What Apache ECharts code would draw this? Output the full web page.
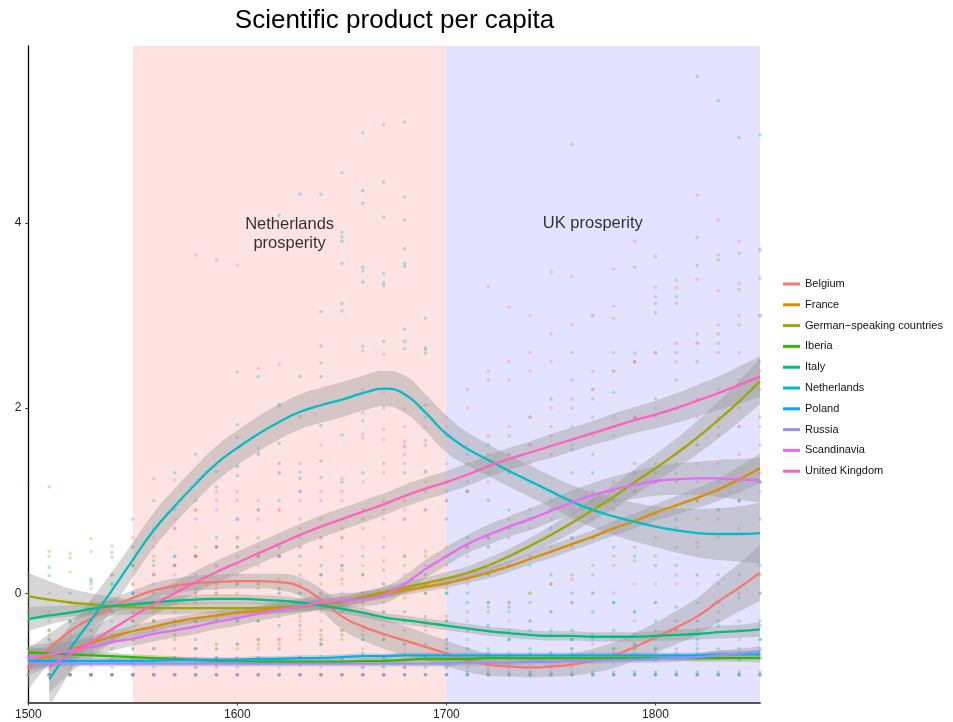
<!DOCTYPE html>
<html>
<head>
<meta charset="utf-8">
<script src="https://cdn.jsdelivr.net/npm/echarts@6/dist/echarts.min.js"></script>
<style>html,body{margin:0;padding:0;background:#fff;}#chart{width:953px;height:722px;}</style>
</head>
<body>
<div id="chart"></div>
<script>
const years = [1500,1510,1520,1530,1540,1550,1560,1570,1580,1590,1600,1610,1620,1630,1640,1650,1660,1670,1680,1690,1700,1710,1720,1730,1740,1750,1760,1770,1780,1790,1800,1810,1820,1830,1840,1850];
const xTickYears = [1500,1600,1700,1800];
const yTicks = [0,2,4];
const countries = ['Belgium','France','German\u2212speaking countries','Iberia','Italy','Netherlands','Poland','Russia','Scandinavia','United Kingdom'];
const periods = [{from:1550,to:1700},{from:1700,to:1850}];
const annotations = [
  {text:'Netherlands\nprosperity', year:1625, value:3.885},
  {text:'UK prosperity', year:1770, value:3.99}
];

// smoothed fits (value per decade)
const belgiumFit = [-0.82,-0.6,-0.41,-0.27,-0.15,-0.05,0.03,0.08,0.11,0.12,0.13,0.13,0.12,0.07,-0.07,-0.25,-0.36,-0.44,-0.51,-0.58,-0.65,-0.72,-0.77,-0.79,-0.80,-0.79,-0.77,-0.73,-0.67,-0.58,-0.48,-0.37,-0.25,-0.09,0.06,0.22];
const franceFit = [-0.75,-0.68,-0.61,-0.54,-0.47,-0.41,-0.36,-0.31,-0.27,-0.24,-0.21,-0.19,-0.17,-0.15,-0.12,-0.09,-0.05,-0.01,0.03,0.07,0.11,0.16,0.22,0.29,0.37,0.45,0.53,0.61,0.7,0.78,0.87,0.95,1.03,1.12,1.23,1.35];
const germanFit = [-0.03,-0.07,-0.10,-0.12,-0.14,-0.15,-0.16,-0.16,-0.16,-0.16,-0.16,-0.16,-0.15,-0.14,-0.12,-0.09,-0.04,0.01,0.06,0.11,0.16,0.22,0.3,0.4,0.51,0.63,0.76,0.9,1.04,1.2,1.35,1.51,1.68,1.87,2.07,2.29];
const iberiaFit = [-0.64,-0.65,-0.66,-0.67,-0.68,-0.69,-0.70,-0.71,-0.72,-0.73,-0.73,-0.74,-0.74,-0.74,-0.74,-0.74,-0.73,-0.73,-0.72,-0.71,-0.71,-0.71,-0.70,-0.70,-0.70,-0.70,-0.70,-0.70,-0.70,-0.70,-0.70,-0.70,-0.70,-0.70,-0.70,-0.70];
const italyFit = [-0.28,-0.24,-0.21,-0.17,-0.14,-0.12,-0.10,-0.08,-0.07,-0.06,-0.06,-0.07,-0.08,-0.10,-0.13,-0.17,-0.21,-0.26,-0.29,-0.32,-0.35,-0.38,-0.41,-0.43,-0.45,-0.46,-0.46,-0.47,-0.47,-0.47,-0.46,-0.45,-0.44,-0.42,-0.41,-0.39];
const netherlandsFit = [null,-0.93,-0.60,-0.29,0.03,0.36,0.68,0.94,1.18,1.40,1.57,1.72,1.85,1.96,2.03,2.09,2.16,2.21,2.15,1.95,1.72,1.56,1.44,1.32,1.21,1.10,0.99,0.90,0.83,0.77,0.72,0.68,0.65,0.64,0.64,0.65];
const polandFit = [-0.73,-0.73,-0.73,-0.73,-0.73,-0.73,-0.73,-0.72,-0.72,-0.72,-0.72,-0.71,-0.71,-0.70,-0.70,-0.69,-0.68,-0.68,-0.67,-0.67,-0.67,-0.67,-0.67,-0.67,-0.67,-0.67,-0.67,-0.67,-0.67,-0.67,-0.67,-0.67,-0.67,-0.66,-0.66,-0.66];
const russiaFit = [-0.76,-0.76,-0.76,-0.76,-0.76,-0.76,-0.76,-0.76,-0.76,-0.76,-0.76,-0.76,-0.76,-0.76,-0.76,-0.76,-0.76,-0.76,-0.76,-0.76,-0.76,-0.75,-0.75,-0.75,-0.74,-0.74,-0.73,-0.73,-0.72,-0.72,-0.71,-0.70,-0.69,-0.67,-0.65,-0.63];
const scandinaviaFit = [-0.70,-0.66,-0.62,-0.58,-0.53,-0.49,-0.44,-0.40,-0.36,-0.31,-0.27,-0.22,-0.18,-0.14,-0.10,-0.08,-0.06,-0.02,0.10,0.26,0.40,0.53,0.63,0.72,0.80,0.89,0.98,1.06,1.12,1.17,1.21,1.23,1.24,1.24,1.23,1.22];
const ukFit = [null,-0.80,-0.66,-0.53,-0.39,-0.25,-0.12,0.0,0.12,0.23,0.33,0.43,0.53,0.63,0.72,0.80,0.88,0.96,1.05,1.13,1.20,1.28,1.37,1.45,1.52,1.59,1.66,1.73,1.80,1.87,1.93,2.00,2.08,2.16,2.25,2.34];

// half-widths of the confidence bands
const belgiumSE = [0.22,0.16,0.12,0.1,0.09,0.08,0.08,0.08,0.08,0.08,0.08,0.08,0.09,0.1,0.12,0.14,0.15,0.16,0.16,0.15,0.14,0.13,0.12,0.11,0.11,0.11,0.12,0.13,0.14,0.15,0.16,0.18,0.2,0.23,0.26,0.3];
const franceSE = [0.14,0.11,0.09,0.08,0.07,0.06,0.06,0.05,0.05,0.05,0.05,0.05,0.05,0.05,0.05,0.05,0.05,0.05,0.05,0.05,0.05,0.05,0.06,0.06,0.06,0.07,0.07,0.07,0.08,0.08,0.09,0.1,0.11,0.12,0.14,0.16];
const germanSE = [0.25,0.2,0.15,0.12,0.1,0.08,0.07,0.07,0.06,0.06,0.06,0.06,0.06,0.06,0.06,0.06,0.06,0.06,0.06,0.06,0.07,0.07,0.08,0.08,0.09,0.1,0.11,0.12,0.13,0.14,0.15,0.16,0.18,0.2,0.22,0.25];
const iberiaSE = [0.06,0.05,0.04,0.04,0.04,0.03,0.03,0.03,0.03,0.03,0.03,0.03,0.03,0.03,0.03,0.03,0.03,0.03,0.03,0.03,0.03,0.03,0.03,0.03,0.03,0.03,0.03,0.03,0.03,0.03,0.03,0.03,0.04,0.04,0.04,0.05];
const italySE = [0.13,0.1,0.08,0.07,0.06,0.05,0.05,0.05,0.05,0.05,0.05,0.05,0.05,0.05,0.05,0.05,0.05,0.05,0.05,0.05,0.05,0.05,0.05,0.05,0.05,0.05,0.05,0.05,0.05,0.05,0.05,0.06,0.06,0.07,0.07,0.08];
const netherlandsSE = [null,0.3,0.25,0.22,0.2,0.19,0.19,0.19,0.19,0.19,0.19,0.19,0.19,0.19,0.19,0.19,0.19,0.19,0.2,0.2,0.2,0.18,0.17,0.17,0.17,0.17,0.18,0.19,0.2,0.21,0.22,0.24,0.26,0.28,0.3,0.33];
const polandSE = [0.05,0.04,0.04,0.03,0.03,0.03,0.03,0.03,0.03,0.03,0.03,0.03,0.03,0.03,0.03,0.03,0.03,0.03,0.03,0.03,0.03,0.03,0.03,0.03,0.03,0.03,0.03,0.03,0.03,0.03,0.03,0.03,0.03,0.04,0.04,0.05];
const russiaSE = [0.05,0.04,0.03,0.03,0.03,0.03,0.03,0.03,0.03,0.03,0.03,0.03,0.03,0.03,0.03,0.03,0.03,0.03,0.03,0.03,0.03,0.03,0.03,0.03,0.03,0.03,0.03,0.03,0.03,0.03,0.04,0.04,0.04,0.05,0.05,0.06];
const scandinaviaSE = [0.14,0.12,0.1,0.09,0.09,0.08,0.08,0.08,0.08,0.08,0.08,0.08,0.08,0.08,0.08,0.08,0.08,0.09,0.09,0.1,0.1,0.1,0.11,0.11,0.12,0.12,0.13,0.13,0.14,0.15,0.16,0.17,0.18,0.2,0.22,0.24];
const ukSE = [null,0.28,0.2,0.16,0.14,0.13,0.12,0.12,0.12,0.12,0.12,0.12,0.12,0.12,0.12,0.12,0.12,0.12,0.12,0.12,0.12,0.12,0.12,0.12,0.12,0.13,0.13,0.13,0.14,0.14,0.15,0.16,0.17,0.18,0.2,0.22];

// observations (values per decade)
const belgiumPts = [[-0.88,-0.6],[-0.88,-0.5,-0.3],[-0.88,-0.45,-0.1],[-0.88,-0.4,0.05],[-0.88,-0.3,0.2],[-0.88,-0.2,0.3,0.6],[-0.88,-0.3,0.2,0.5,1.24],[-0.88,-0.2,0.3,0.7,1.22],[-0.88,-0.1,0.4,0.9,3.65],[-0.88,0.0,0.5,1.1,3.6],[-0.88,0.1,0.6,1.0,3.54],[-0.88,-0.2,0.5,0.9,2.43],[-0.88,0.0,0.4,1.3,2.47],[-0.88,-0.3,0.3,0.8],[-0.88,-0.5,0.2,0.6],[-0.88,-0.4,0.1],[-0.88,-0.6,0.0],[-0.88,-0.7,-0.2],[-0.88,-0.6,-0.3],[-0.88,-0.7,-0.4],[-0.88,-0.75,-0.5],[-0.88,-0.8,-0.6],[-0.88,-0.82,-0.65],[-0.88,-0.8,-0.7],[-0.88,-0.85,-0.7],[-0.88,-0.8,-0.65],[-0.88,-0.8,-0.6],[-0.88,-0.75,-0.55],[-0.88,-0.7,-0.5],[-0.88,-0.6,-0.3],[-0.88,-0.5,-0.1],[-0.88,-0.4,0.2],[-0.88,-0.3,0.5],[-0.88,-0.2,0.8,3.27],[-0.88,0.0,1.0],[-0.88,0.2,1.2]];
const francePts = [[-0.7],[-0.88,-0.6,-0.45],[-0.88,-0.55,-0.3],[-0.88,-0.5,-0.2],[-0.88,-0.45,-0.1],[-0.88,-0.5,-0.2,0.1],[-0.7,-0.4,-0.1,0.2],[-0.7,-0.35,0.0,0.3],[-0.6,-0.3,0.0,0.4],[-0.6,-0.25,0.05,0.5],[-0.55,-0.2,0.1,0.4],[-0.5,-0.2,0.1,0.6],[-0.5,-0.15,0.15,0.5],[-0.45,-0.1,0.2,0.7],[-0.45,-0.1,0.2,0.8],[-0.4,-0.05,0.25,0.6],[-0.4,0.0,0.3,0.9],[-0.35,0.0,0.35,1.0],[-0.3,0.05,0.4,0.8],[-0.3,0.1,0.45,1.2],[-0.25,0.1,0.5,1.0],[-0.2,0.15,0.5,1.1],[-0.15,0.2,0.6,1.3],[-0.1,0.3,0.7,1.5],[0.0,0.4,0.8,1.6],[0.1,0.45,0.9,1.8],[0.15,0.5,1.0,2.0],[0.2,0.6,1.1,2.2],[0.3,0.7,1.2,2.4],[0.35,0.8,1.3,2.5],[0.4,0.85,1.4,3.03],[0.5,0.95,1.5,2.6],[0.55,1.0,1.6,2.7],[0.6,1.1,1.7,2.8],[0.7,1.2,1.8],[0.8,1.3,1.9]];
const germanPts = [[-0.3,0.0],[-0.4,0.0,0.4,0.45],[-0.5,-0.1,0.23,0.38,0.43],[-0.4,-0.1,0.13,0.45,0.59],[-0.5,-0.2,0.1,0.39],[-0.6,-0.3,0.0,0.3],[-0.6,-0.3,0.0,0.4],[-0.6,-0.3,0.0,0.3],[-0.6,-0.3,-0.05,0.4],[-0.6,-0.3,0.0,0.3],[-0.6,-0.3,0.0,0.5],[-0.55,-0.3,0.05,0.4],[-0.55,-0.25,0.05,0.5],[-0.5,-0.25,0.1,0.6],[-0.5,-0.2,0.1,0.5],[-0.5,-0.2,0.15,0.7],[-0.45,-0.15,0.2,0.8],[-0.45,-0.1,0.25,0.9],[-0.4,-0.05,0.3,1.0],[-0.35,0.0,0.4,1.1],[-0.3,0.05,0.4,1.2],[-0.3,0.1,0.5,1.4],[-0.2,0.2,0.6,1.5],[-0.1,0.3,0.8,1.7],[0.0,0.4,0.9,1.9],[0.1,0.5,1.1,2.1],[0.2,0.6,1.3,2.3],[0.3,0.8,1.5,2.1],[0.4,0.9,1.7,2.97],[0.5,1.1,1.9,2.59,3.52],[0.6,1.3,2.1,3.13,3.64],[0.7,1.4,2.3,3.2,3.38],[0.8,1.6,2.5,3.54,3.84],[0.9,1.8,2.7,3.6],[1.0,2.0,2.9,3.28,3.67],[1.2,2.2,3.0,3.4,3.7]];
const iberiaPts = [[-0.88,-0.6],[-0.88,-0.7,-0.4],[-0.88,-0.7],[-0.88,-0.65],[-0.88,-0.7],[-0.88,-0.72,-0.5],[-0.88,-0.75],[-0.88,-0.7,-0.45],[-0.88,-0.75],[-0.88,-0.7,-0.55],[-0.88,-0.75],[-0.88,-0.72,-0.5],[-0.88,-0.75],[-0.88,-0.7],[-0.88,-0.75,-0.55],[-0.88,-0.72],[-0.88,-0.75],[-0.88,-0.7,-0.5],[-0.88,-0.72],[-0.88,-0.7],[-0.88,-0.72,-0.55],[-0.88,-0.7],[-0.88,-0.72],[-0.88,-0.7,-0.5],[-0.88,-0.72],[-0.88,-0.7],[-0.88,-0.68,-0.5],[-0.88,-0.7],[-0.88,-0.72],[-0.88,-0.7,-0.55],[-0.88,-0.72],[-0.88,-0.7],[-0.88,-0.68,-0.45],[-0.88,-0.7],[-0.88,-0.72],[-0.88,-0.7,-0.5]];
const italyPts = [[-0.5,-0.2,0.2,1.17],[-0.6,-0.2,0.19,0.28],[-0.6,-0.3,0.0],[-0.7,-0.2,0.15],[-0.6,-0.2,0.1],[-0.7,-0.3,0.0,0.3],[-0.7,-0.3,0.0,0.35],[-0.7,-0.3,0.05,0.4],[-0.7,-0.3,0.05,0.4],[-0.7,-0.3,0.1,0.5],[-0.7,-0.3,0.1,0.5],[-0.7,-0.3,0.1,0.4],[-0.7,-0.35,0.05,0.4],[-0.7,-0.35,0.0,0.4],[-0.75,-0.4,0.0,0.3],[-0.75,-0.45,-0.1,0.3],[-0.8,-0.5,-0.1,0.2],[-0.8,-0.5,-0.2,0.1],[-0.8,-0.55,-0.2,0.1],[-0.8,-0.55,-0.25,0.0],[-0.8,-0.6,-0.3,0.0],[-0.85,-0.6,-0.4,-0.1],[-0.85,-0.6,-0.35,-0.1],[-0.85,-0.65,-0.4,-0.15],[-0.85,-0.6,-0.4,-0.1],[-0.85,-0.65,-0.45,-0.2],[-0.85,-0.6,-0.4,-0.1],[-0.85,-0.65,-0.45,-0.2],[-0.85,-0.6,-0.4,-0.1],[-0.85,-0.65,-0.45,-0.2],[-0.85,-0.6,-0.4,-0.1],[-0.85,-0.65,-0.4,-0.15],[-0.85,-0.6,-0.4,-0.1],[-0.85,-0.6,-0.35,-0.1],[-0.85,-0.6,-0.4,-0.05],[-0.85,-0.6,-0.35,0.0]];
const netherlandsPts = [[],[-0.88,-0.5,1.15],[-0.88,-0.4,-0.32],[-0.88,-0.2,0.1],[-0.88,0.2,0.44,0.51],[-0.88,0.0,0.5,0.8],[-0.6,0.3,0.7,1.0],[-0.5,0.4,0.9,1.3],[-0.5,0.5,1.0,1.5],[-0.3,0.6,1.15,1.31],[-0.3,0.8,1.27,1.37,1.68,1.82,2.39],[-0.2,0.9,1.5,1.57,2.34,4.02],[0.0,1.0,1.4,1.62,2.02,2.04,4.08],[0.0,1.1,1.24,1.31,1.91,2.34,4.31],[0.2,1.25,1.43,1.81,2.34,2.49,2.67,3.04,4.31],[0.3,1.2,1.71,3.05,3.13,3.56,3.8,3.85,3.9,4.54],[0.4,1.3,1.86,2.67,3.36,3.48,3.52,4.21,4.35,4.97],[0.5,1.4,2.0,2.72,3.32,3.35,3.45,4.06,4.44,5.06],[0.4,1.3,2.64,2.72,2.85,3.53,3.56,3.72,4.03,4.28,5.09],[0.2,1.32,1.65,1.9,2.03,2.59,2.63,2.65,2.97],[0.0,0.8,1.2,1.7],[0.0,0.6,1.1,1.5],[-0.1,0.5,1.0,1.6],[-0.2,0.4,0.9,1.3],[-0.3,0.3,0.8,1.2],[-0.4,0.2,0.7,1.0],[-0.5,0.0,0.6,1.55],[-0.5,0.0,0.6,1.3],[-0.6,-0.1,0.5,2.17],[-0.6,-0.2,0.4,1.4],[-0.6,-0.3,0.3,1.2],[-0.6,-0.3,0.3,0.8],[-0.7,-0.3,0.2,1.0,5.58],[-0.7,-0.3,0.2,0.9,5.32],[-0.7,-0.3,0.2,1.0,4.92],[-0.7,-0.3,0.3,1.2,4.95]];
const polandPts = [[-0.8],[-0.88,-0.75],[-0.88,-0.7],[-0.88,-0.75],[-0.88,-0.72],[-0.88,-0.75,-0.6],[-0.88,-0.72],[-0.88,-0.7],[-0.88,-0.75,-0.6],[-0.88,-0.7],[-0.88,-0.72,-0.55],[-0.88,-0.7],[-0.88,-0.75,-0.6],[-0.88,-0.7],[-0.88,-0.68,-0.55],[-0.88,-0.7],[-0.88,-0.65,-0.5],[-0.88,-0.7],[-0.88,-0.66,-0.55],[-0.88,-0.7],[-0.88,-0.65,-0.5],[-0.88,-0.7],[-0.88,-0.65],[-0.88,-0.7,-0.5],[-0.88,-0.65],[-0.88,-0.68],[-0.88,-0.65,-0.5],[-0.88,-0.7],[-0.88,-0.65],[-0.88,-0.68,-0.55],[-0.88,-0.65],[-0.88,-0.7],[-0.88,-0.65,-0.5],[-0.88,-0.68],[-0.88,-0.65],[-0.88,-0.66,-0.5]];
const russiaPts = [[-0.88,-0.8],[-0.88,-0.82],[-0.88,-0.8],[-0.88,-0.78],[-0.88,-0.8],[-0.88,-0.78],[-0.88,-0.8],[-0.88,-0.76],[-0.88,-0.8],[-0.88,-0.78],[-0.88,-0.8],[-0.88,-0.77],[-0.88,-0.8],[-0.88,-0.78],[-0.88,-0.8],[-0.88,-0.76],[-0.88,-0.8],[-0.88,-0.78],[-0.88,-0.8],[-0.88,-0.77],[-0.88,-0.8],[-0.88,-0.76],[-0.88,-0.78],[-0.88,-0.75],[-0.88,-0.78],[-0.88,-0.74],[-0.88,-0.76],[-0.88,-0.72],[-0.88,-0.75],[-0.88,-0.7],[-0.88,-0.72,-0.6],[-0.88,-0.7],[-0.88,-0.7,-0.55],[-0.88,-0.68],[-0.88,-0.65,-0.5],[-0.88,-0.62]];
const scandinaviaPts = [[-0.88,-0.7],[-0.88,-0.7],[-0.88,-0.6],[-0.88,-0.6,-0.3],[-0.88,-0.5,-0.2],[-0.88,-0.5,0.0],[-0.88,-0.4,0.1],[-0.88,-0.4,0.2,0.7],[-0.88,-0.3,0.2,0.8],[-0.88,-0.3,0.3,0.9],[-0.88,-0.2,0.3,0.8],[-0.88,-0.2,0.4,1.0],[-0.88,-0.1,0.4,0.9],[-0.88,-0.1,0.5,1.1],[-0.88,0.0,0.5,1.0],[-0.88,0.0,0.4,1.1],[-0.88,0.0,0.5,1.2],[-0.88,0.1,0.6,1.3],[-0.8,0.2,0.8,1.5],[-0.7,0.3,0.9,1.6],[-0.6,0.4,1.1,1.8],[-0.5,0.5,1.2,2.0],[-0.4,0.6,1.4,2.3,3.31],[-0.3,0.7,1.5,2.3,3.09],[-0.3,0.8,1.6,2.4,3.0],[-0.2,0.9,1.7,2.5,3.47],[-0.1,1.0,1.8,2.6,3.42,4.85],[0.0,1.0,1.9,2.4,3.0],[0.0,1.1,1.9,2.6,3.5],[0.1,1.1,1.9,2.5],[0.1,1.2,2.0,2.6,3.3],[0.1,1.2,2.0,2.5,3.13],[0.1,1.2,1.9,2.7,3.39],[0.1,1.2,1.9,2.6],[0.0,1.1,1.8,2.6,3.8],[0.0,1.1,1.8,2.5,3.72]];
const ukPts = [[],[-0.88,-0.7],[-0.88,-0.6],[-0.88,-0.5,-0.2],[-0.88,-0.4,-0.1],[-0.88,-0.3,0.1,0.5],[-0.88,-0.2,0.2,0.6],[-0.88,-0.1,0.3,0.8],[-0.8,0.0,0.4,0.9],[-0.8,0.1,0.5,1.0],[-0.7,0.2,0.6,1.1],[-0.6,0.3,0.8,1.52],[-0.5,0.4,0.9,1.3],[-0.4,0.5,1.0,1.4],[-0.3,0.6,1.1,1.6],[-0.2,0.6,1.0,1.24],[-0.1,0.7,1.68,1.72,1.95,2.2,2.62],[0.0,0.8,1.66,1.77,2.17,2.58],[0.1,0.9,1.4,1.58,1.59,1.64,1.8,1.99],[0.2,0.9,1.3,1.8],[0.3,1.0,1.4,1.9],[0.4,1.1,1.6,2.2],[0.5,1.2,1.7,2.4],[0.6,1.3,1.8,2.5],[0.7,1.4,1.9,2.6],[0.8,1.5,2.0,2.8],[0.9,1.6,2.1,2.9],[1.0,1.7,2.2,3.0],[1.0,1.8,2.4,3.1],[1.1,1.9,2.5,3.8],[1.2,1.9,2.6,3.2],[1.3,2.0,2.7,3.3],[1.4,2.1,2.8,4.3],[1.4,2.2,2.9,3.65,4.03],[1.5,2.3,3.0,3.35],[1.6,2.4,3.0]];

const fits = [belgiumFit, franceFit, germanFit, iberiaFit, italyFit, netherlandsFit, polandFit, russiaFit, scandinaviaFit, ukFit];
const ses = [belgiumSE, franceSE, germanSE, iberiaSE, italySE, netherlandsSE, polandSE, russiaSE, scandinaviaSE, ukSE];
const pts = [belgiumPts, francePts, germanPts, iberiaPts, italyPts, netherlandsPts, polandPts, russiaPts, scandinaviaPts, ukPts];

const palette = ['#F8766D','#D89000','#A3A500','#39B600','#00BF7D','#00BFC4','#00B0F6','#9590FF','#E76BF3','#FF62BC'];
const periodColors = ['rgba(255,0,0,0.11)','rgba(0,0,255,0.11)'];
const FONT = '"Liberation Sans", Arial, Helvetica, sans-serif';

const yearLabels = years.map(String);
const series = [];

// shaded periods
series.push({
  type: 'scatter', name: 'periods', xAxisIndex: 1, data: [], z: 0, silent: true,
  markArea: {
    silent: true,
    data: periods.map((p, i) => [{xAxis: p.from, itemStyle: {color: periodColors[i]}}, {xAxis: p.to}])
  }
});

// points
countries.forEach((c, ci) => {
  const data = [];
  pts[ci].forEach((vals, i) => { vals.forEach(v => data.push([yearLabels[i], v])); });
  series.push({
    type: 'scatter', name: c + ' obs', data: data, symbol: 'circle', symbolSize: 3.6, z: 2, silent: true,
    itemStyle: {color: palette[ci], opacity: 0.32}
  });
});

// bands + lines
countries.forEach((c, ci) => {
  const fit = fits[ci], se = ses[ci];
  const lower = fit.map((v, i) => v == null ? null : +(v - se[i]).toFixed(3));
  const width = fit.map((v, i) => v == null ? null : +(2 * se[i]).toFixed(3));
  series.push({
    type: 'line', name: c + ' lo', data: lower, stack: 'band' + ci, stackStrategy: 'all', smooth: true, symbol: 'none', showSymbol: false,
    lineStyle: {width: 0, opacity: 0}, z: 3, silent: true
  });
  series.push({
    type: 'line', name: c + ' band', data: width, stack: 'band' + ci, stackStrategy: 'all', smooth: true, symbol: 'none', showSymbol: false,
    lineStyle: {width: 0, opacity: 0}, areaStyle: {color: 'rgba(153,153,153,0.4)', opacity: 1}, z: 3, silent: true
  });
  series.push({
    type: 'line', name: c, data: fit, smooth: true, symbol: 'none', showSymbol: false,
    color: palette[ci], lineStyle: {width: 2.3, color: palette[ci]}, z: 3, silent: true
  });
});

// annotations
series.push({
  type: 'scatter', name: 'annotations', xAxisIndex: 1, z: 5, silent: true, symbolSize: 1,
  itemStyle: {color: 'rgba(0,0,0,0)'},
  data: annotations.map(a => ({name: a.text, value: [a.year, a.value]})),
  label: {show: true, position: 'inside', formatter: '{b}', color: '#000', fontSize: 16.5, lineHeight: 19, fontFamily: FONT, align: 'center'}
});

const chart = echarts.init(document.getElementById('chart'), null, {renderer: 'canvas'});
chart.setOption({
  animation: false,
  backgroundColor: '#fff',
  textStyle: {fontFamily: FONT},
  graphic: [{
    type: 'text', x: 394.5, y: 21, silent: true,
    style: {text: 'Scientific product per capita', font: '26px ' + FONT, fill: '#000', align: 'center', verticalAlign: 'middle'}
  }],
  grid: {left: 28.3, right: 193, top: 46, bottom: 19.5, containLabel: false},
  legend: {
    orient: 'vertical', left: 783, top: 277, padding: 0, itemGap: 6.8,
    itemWidth: 17, itemHeight: 3, icon: 'rect',
    data: countries.map((c, i) => ({name: c, itemStyle: {color: palette[i]}})),
    textStyle: {fontSize: 11, color: '#111', lineHeight: 14, fontFamily: FONT},
    selectedMode: false
  },
  xAxis: [{
    type: 'category', data: yearLabels, boundaryGap: false,
    axisLine: {show: true, onZero: false, lineStyle: {color: '#555', width: 2}},
    axisTick: {show: true, length: 3, lineStyle: {color: '#333'}, interval: (idx, val) => xTickYears.includes(+val)},
    axisLabel: {show: true, interval: (idx, val) => xTickYears.includes(+val), color: '#222', fontSize: 12, margin: 6, fontFamily: FONT},
    splitLine: {show: false}
  }, {
    type: 'value', min: years[0], max: years[years.length - 1], show: false
  }],
  yAxis: {
    type: 'value', min: -1.18, max: 5.91,
    axisLine: {show: true, onZero: false, lineStyle: {color: '#000', width: 1.3}},
    axisTick: {show: true, length: 3, lineStyle: {color: '#333'}, customValues: yTicks},
    axisLabel: {show: true, customValues: yTicks, color: '#222', fontSize: 12, margin: 7, fontFamily: FONT},
    splitLine: {show: false}
  },
  series: series
});
</script>
</body>
</html>
